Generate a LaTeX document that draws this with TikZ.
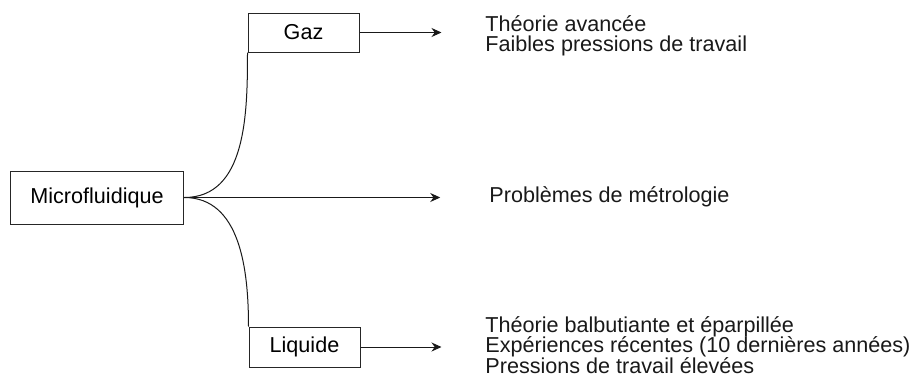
\documentclass[tikz,border=0pt]{standalone}
\usepackage{fontspec}
\setmainfont{Liberation Sans}
\usetikzlibrary{arrows.meta, calc}
\tikzstyle{box} = [rectangle, draw=black!85, line width=0.5pt, inner sep=0pt, text centered, font=\fontsize{10.8}{10.25}\selectfont]
\tikzstyle{remark} = [inner sep=0pt, anchor=west, align=left, text=black!90, font=\fontsize{10.8}{10.25}\selectfont]
\tikzstyle{branch} = [line width=0.5pt, draw=black!90]
\tikzstyle{outarrow} = [line width=0.5pt, draw=black!90, -{Stealth[length=5pt, width=4.5pt]}]

\begin{document}
\begin{tikzpicture}[x=0.5pt, y=-0.5pt]
    \useasboundingbox (0,0) rectangle (916,376);

    % Nodes
    \node (micro) [box, minimum width=86.75pt, minimum height=26.5pt] at (97,197.5) {Microfluidique};
    \node (gaz) [box, minimum width=55.5pt, minimum height=19.5pt] at ($(micro)+(206.5,-165)$) {Gaz};
    \node (liquide) [box, minimum width=55.5pt, minimum height=20pt] at ($(micro)+(207.5,149.5)$) {Liquide};

    \coordinate (gazend) at ($(gaz.east)+(82,0)$);
    \coordinate (microend) at ($(micro.east)+(256,0)$);
    \coordinate (liquideend) at ($(liquide.east)+(81,0)$);

    \node (gaztext) [remark] at (485,35.7) {Théorie avancée\\Faibles pressions de travail};
    \node (microtext) [remark] at (489,197.2) {Problèmes de métrologie};
    \node (liquidetext) [remark] at (485,345) {Théorie balbutiante et éparpillée\\Expériences récentes (10 dernières années)\\Pressions de travail élevées};

    % Connectors
    \draw [branch] (micro.east) to [out=0, in=-90] (gaz.south west);
    \draw [branch] (micro.east) to [out=0, in=90] (liquide.north west);

    \draw [outarrow] (gaz.east) -- (gazend);
    \draw [outarrow] (micro.east) -- (microend);
    \draw [outarrow] (liquide.east) -- (liquideend);
\end{tikzpicture}
\end{document}
